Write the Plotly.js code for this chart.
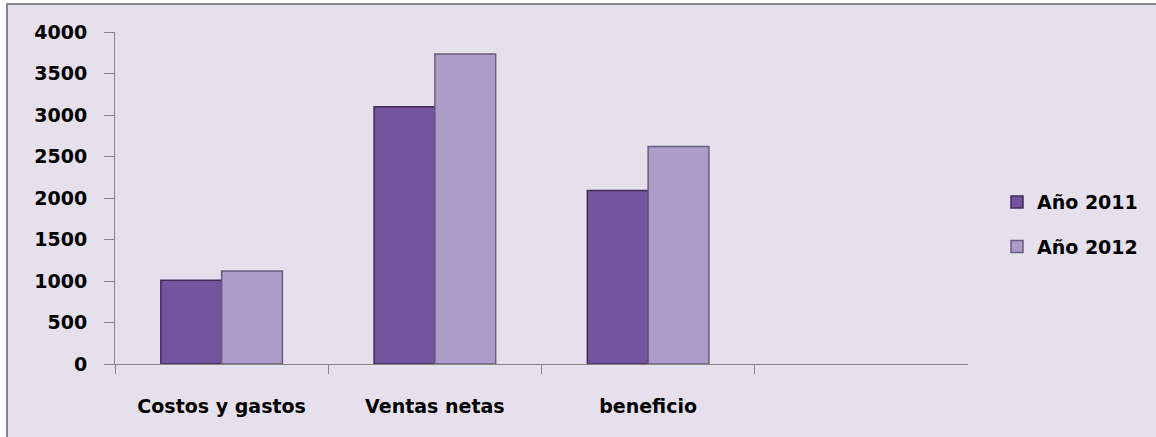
<!DOCTYPE html>
<html>
<head>
<meta charset="utf-8">
<script src="https://cdn.plot.ly/plotly-3.0.1.min.js"></script>
<style>
  html, body { margin:0; padding:0; background:#ffffff; }
  #chart { position:absolute; left:0; top:0; width:1156px; height:437px; }
  .strip { position:absolute; background:#ffffff; }
  .bord { position:absolute; background:#868686; }
</style>
</head>
<body>
<div id="chart"></div>
<div class="strip" style="left:0;top:0;width:6px;height:437px;"></div>
<div class="strip" style="left:0;top:0;width:1156px;height:3px;"></div>
<div class="bord" style="left:6px;top:3px;width:2px;height:434px;"></div>
<div class="bord" style="left:6px;top:3px;width:1150px;height:2px;"></div>
<script>
const categories = ["Costos y gastos", "Ventas netas", "beneficio"];
const seriesNames = ["Año 2011", "Año 2012"];
const values2011 = [1010, 3100, 2090];
const values2012 = [1120, 3735, 2620];
const yTicks = [0, 500, 1000, 1500, 2000, 2500, 3000, 3500, 4000];

const tf = { family: "DejaVu Sans", size: 19, color: "#000000", weight: "bold" };

const traces = [
  { type: "bar", name: seriesNames[0], x: categories, y: values2011, legendgroup: "a",
    marker: { color: "#74549e", line: { color: "#3f2c58", width: 1.5 } } },
  { type: "bar", name: seriesNames[1], x: categories, y: values2012, legendgroup: "b",
    marker: { color: "#ad9cc8", line: { color: "#6a5d7e", width: 1.5 } } }
];

const layout = {
  width: 1156, height: 437,
  margin: { l: 115, r: 188, t: 32, b: 73, autoexpand: false },
  paper_bgcolor: "#e5e0ec",
  plot_bgcolor: "rgba(0,0,0,0)",
  font: tf,
  showlegend: true,
  barmode: "group",
  bargap: 0.43,
  bargroupgap: 0,
  legend: {
    x: 1.034, y: 0.42, xanchor: "left", yanchor: "middle",
    font: tf,
    bgcolor: "rgba(0,0,0,0)", tracegroupgap: 17, traceorder: "grouped",
    itemwidth: 30
  },
  xaxis: {
    type: "category",
    range: [-0.5, 3.5],
    tickson: "boundaries",
    ticks: "outside", ticklen: 9, tickcolor: "#868686", tickwidth: 1,
    showline: true, linecolor: "#868686", linewidth: 1,
    showgrid: false, zeroline: false,
    tickfont: tf,
    ticklabelstandoff: 25
  },
  yaxis: {
    range: [0, 4000],
    tickvals: yTicks,
    ticks: "outside", ticklen: 10, tickcolor: "#868686", tickwidth: 1,
    showline: true, linecolor: "#868686", linewidth: 1,
    showgrid: false, zeroline: false,
    tickfont: tf,
    ticklabelstandoff: 13
  }
};

Plotly.newPlot("chart", traces, layout, { displayModeBar: false, staticPlot: true });
</script>
</body>
</html>
